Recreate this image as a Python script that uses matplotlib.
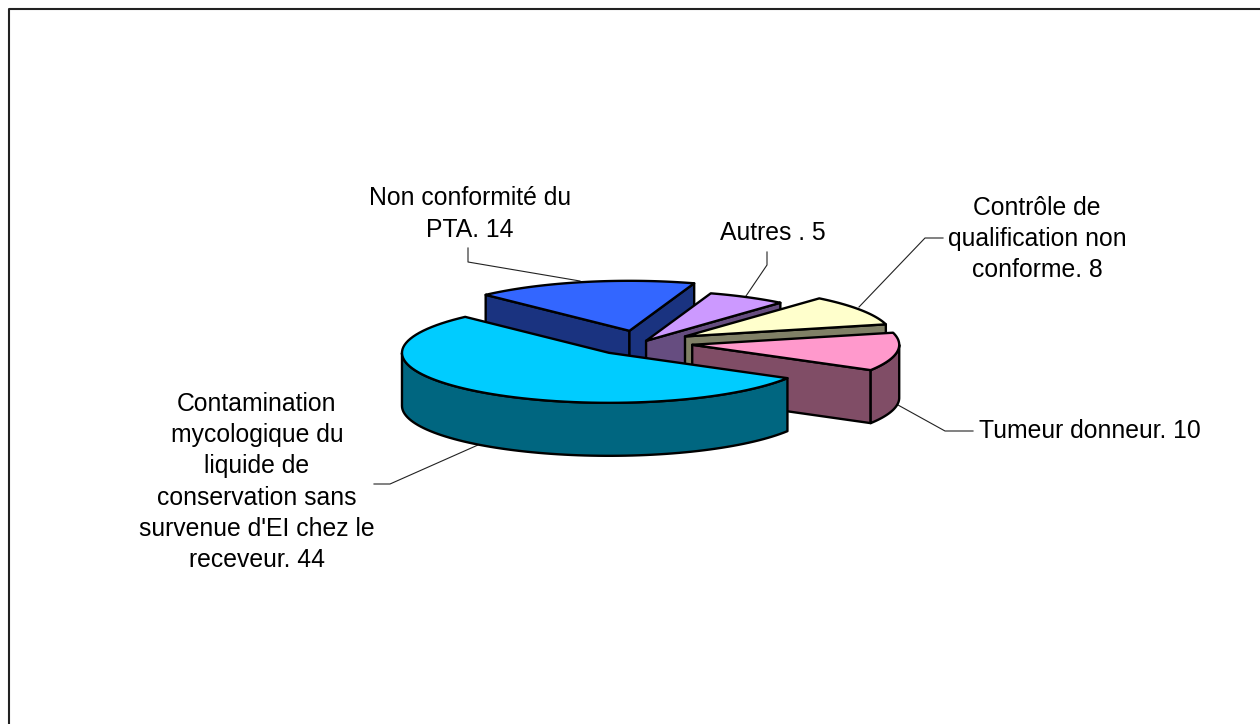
import numpy as np
import matplotlib
matplotlib.use("Agg")
import matplotlib.pyplot as plt
from matplotlib.patches import Polygon

W, H = 1260, 724

# Data (slice 0 runs counter-clockwise from the start angle, the others clockwise)
categories = ["Contamination\nmycologique du\nliquide de\nconservation sans\nsurvenue d'EI chez le\nreceveur. 44",
              "Non conformité du\nPTA. 14",
              "Autres . 5",
              "Contrôle de\nqualification non\nconforme. 8",
              "Tumeur donneur. 10"]
values = [44, 14, 5, 8, 10]
explode = [0.25, 0.25, 0.05, 0.25, 0.25]
top_colors = ["#00CCFF", "#3366FF", "#CC99FF", "#FFFFCC", "#FF99CC"]
side_colors = ["#006680", "#1A3380", "#664D80", "#808066", "#804D66"]
label_pos = [(257, 482), (470, 214), (773, 233), (1037, 239), (1090, 431)]
leaders = [[(374, 484), (390, 484), (478, 445)],
           [(468, 248), (468, 262), (580, 281)],
           [(767, 252), (767, 265), (746, 296)],
           [(943, 238), (925, 238), (859, 307)],
           [(973, 431), (945, 431), (898, 405)]]

cx, cy = 641, 343
rx, ry, depth = 207, 50, 53
start_angle = 134.0
EC = "black"
LW = 1.7

fig = plt.figure(figsize=(W / 100, H / 100), dpi=100)
ax = fig.add_axes([0, 0, 1, 1])
ax.set_xlim(0, W)
ax.set_ylim(H, 0)
ax.axis("off")

# outer frame: only the left and top edges fall inside the picture
ax.plot([9, 9, W + 5], [H + 5, 9, 9], color="#222222", lw=1.5, zorder=1)

total = sum(values)
spans = [v * 360.0 / total for v in values]
wedges = [(start_angle, start_angle + spans[0])]
upper = start_angle
for s in spans[1:]:
    wedges.append((upper - s, upper))
    upper -= s


def rim(px, py, a, b, n=80):
    t = np.radians(np.linspace(a, b, n))
    return np.column_stack([px + rx * np.cos(t), py - ry * np.sin(t)])


def add(points, color, z):
    ax.add_patch(Polygon(points, closed=True, facecolor=color, edgecolor=EC,
                         lw=LW, joinstyle="round", zorder=z))


z = 3
for i in [1, 2, 3, 4, 0]:
    a, b = wedges[i]
    mid = np.radians((a + b) / 2)
    px = cx + explode[i] * rx * np.cos(mid)
    py = cy - explode[i] * ry * np.sin(mid)
    down = np.array([0, depth])
    apex = np.array([px, py])
    # radial walls that face the viewer
    if np.cos(np.radians(b)) < 0:
        e = rim(px, py, b, b, 1)[0]
        add([apex, e, e + down, apex + down], side_colors[i], z)
    if np.cos(np.radians(a)) > 0:
        e = rim(px, py, a, a, 1)[0]
        add([apex, e, e + down, apex + down], side_colors[i], z)
    # outer wall, lower half of the ellipse only
    for lo, up in [(a, b), (a + 360, b + 360), (a - 360, b - 360)]:
        l2, h2 = max(lo, 180), min(up, 360)
        if h2 > l2:
            arc = rim(px, py, l2, h2)
            add(np.vstack([arc, (arc + down)[::-1]]), side_colors[i], z)
    # top face
    add(np.vstack([[apex], rim(px, py, a, b)]), top_colors[i], z + 0.5)
    z += 1

for name, (x, y), pts in zip(categories, label_pos, leaders):
    ax.text(x, y, name, ha="center", va="center", fontsize=17.8,
            family="Liberation Sans", color="black", linespacing=1.38, zorder=20)
    xs, ys = zip(*pts)
    ax.plot(xs, ys, color="#222222", lw=0.8, zorder=2)

fig.savefig("out.png", dpi=100, facecolor="white")
